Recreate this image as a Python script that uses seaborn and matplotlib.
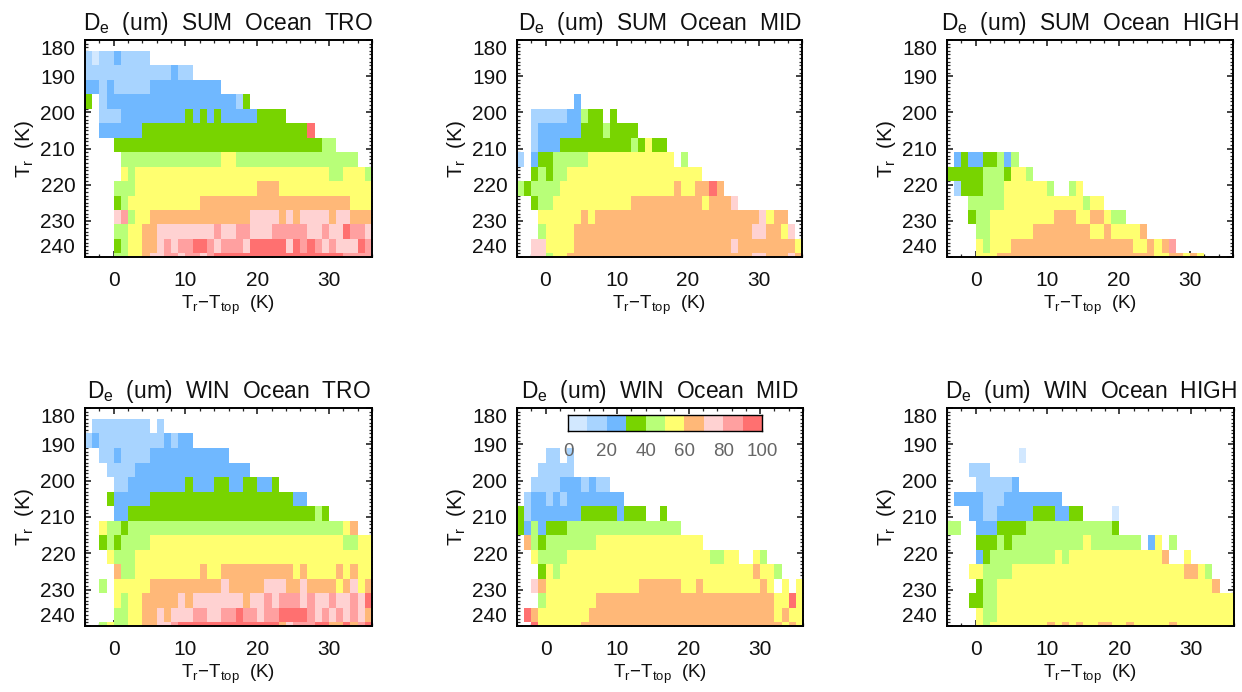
import numpy as np
import pandas as pd
import seaborn as sns
import matplotlib
matplotlib.use("Agg")
from matplotlib import pyplot as plt
from matplotlib.colors import ListedColormap
from matplotlib.ticker import FixedLocator

# each row is one Tr bin (top to bottom), columns are Tr-Ttop bins of 1 K
# digit = colour class of De (0 -> 0-10 um ... 9 -> 90-100 um), '.' = no data
# blocks of ten columns: -4..5, 6..15, 16..25, 26..35
sum_tro = [
    "",
    "101121111.",
    "1111111111 11211.....",
    "2212111112 222222222.",
    "3.12222222 2222222222 213.......",
    "..11122222 2222323232 22223333..",
    "..22222233 3333333333 3333333333 39........",
    "....333333 3333333333 3333333333 33344.....",
    ".....44444 4444444445 5444444444 44444444..",
    ".....54555 5555555555 5555555555 5555445554",
    "....444555 5555555555 5555666555 5555555555",
    "....345555 5555556666 6666666666 6666666555",
    "....784556 6666666666 6667777676 7777677666",
    "....445566 7777777787 7887778888 8778779887",
    "....345566 7878899878 8879999979 8987877798",
    "....445567 7887887899 9999999999 9999998888",
]
sum_mid = [
    "", "", "", "",
    "........2.",
    "..11111224 33.3......",
    "..12222223 3343333...",
    "..12223333 3333334353 3.........",
    "1.23344444 5555555555 55.4......",
    "..34344555 5555555555 555555....",
    "4344445555 5555555555 556556696.",
    "..34455555 5555556666 6666665666 7.........",
    "...5555556 5666666666 6666666666 66667566..",
    "...4555566 6666666666 6666666666 666776657.",
    "..77555566 6666666666 6666666666 7666666665",
    "..77455666 6666666666 6666666666 6667766676",
]
sum_high = [
    "", "", "", "", "", "", "", "",
    ".232233424",
    "3333344435 54........",
    ".133344455 55554..45.",
    "...4444455 5555555554 55........",
    "...3445555 5555566655 66544.....",
    "....445555 5566666666 55655556..",
    "....545556 6666666666 6666665565 68........",
    "....555666 6666666666 6666666665 566565....",
]
win_tro = [
    "",
    ".11111111. 1.........",
    "1211111111 12122.....",
    "..11211112 2222222222",
    "...1111222 2222222222 222.......",
    "....112222 2222322233 2233223...",
    "...3222223 3333333333 3333333332 2.........",
    "....223333 3333333333 3333333333 3343......",
    "..54434444 4444444444 4444444444 44444456..",
    "..34344445 5555555555 5555555555 5555554455",
    "...5444555 5555555555 5555555555 5555555555",
    "....644555 5555556556 6666666665 6555565655",
    "..4.555556 6666666667 6666677766 7666656756",
    "....545566 6667677777 7767787888 7877877879",
    "....445566 7677788778 8988788999 9878787876",
    "..45445566 7789999999 9999999678 8899669689",
]
win_mid = [
    "", "", "",
    "....11.1..",
    "...11111..",
    "..11112221 211.......",
    ".122121222 22222.....",
    "3122222223 33332333.. 3.........",
    "3242333444 4444444444 444.......",
    ".643444444 4555555555 555555....",
    "..54444555 5555555555 5555555445 5..54.....",
    "...3545555 5555555555 5555555555 5556554...",
    "..76555555 5555555666 6665565555 555565.5.5",
    "...4555555 5666666666 6666666666 6666665595",
    ".965555555 6666666666 6666666666 6666665655",
    "..95555556 6666666666 6666666666 6666666565",
]
win_high = [
    "", "", "",
    ".......... 0.........",
    "...111....",
    "....111112",
    ".222211122 222222....",
    "...2211222 223332233. ...0......",
    "44..222333 3444444444 4443......",
    "....333434 4444444445 4444444.25 .4........",
    "....234444 4444454555 5555555555 6..5......",
    "...5544445 5555555555 5555555555 5556654...",
    "....344555 5555555555 5555555555 55555556..",
    "...3344555 5555555555 5555555555 5555555555",
    "....544555 5555555555 5555555555 5555555555",
    "....545555 5555656565 5665565555 5655555555",
]

titles = ["SUM  Ocean  TRO", "SUM  Ocean  MID", "SUM  Ocean  HIGH",
          "WIN  Ocean  TRO", "WIN  Ocean  MID", "WIN  Ocean  HIGH"]
panels = [sum_tro, sum_mid, sum_high, win_tro, win_mid, win_high]

x_bins = list(range(-4, 36))          # lower edge of every column
tr_bins = list(range(179, 243, 4))    # upper edge (smaller Tr) of every row
x_ticks = [0, 10, 20, 30]
y_ticks = [180, 190, 200, 210, 220, 230, 240]
cbar_bins = [5, 15, 25, 35, 45, 55, 65, 75, 85, 95]
cbar_labels = [0, 20, 40, 60, 80, 100]

colors = ["#d2e8ff", "#a8d4ff", "#70b8ff", "#78d400", "#b8ff78",
          "#ffff70", "#ffb878", "#ffd2d2", "#ffa0a0", "#ff7070"]

W, H = 1242, 692
# axes boxes in pixels: left, right, top, bottom
boxes = [(85, 372, 40, 257), (517, 802, 40, 257), (947, 1233, 40, 257),
         (85, 372, 408, 626), (517, 803, 408, 626), (947, 1234, 408, 626)]

sns.set_theme(style="white")
plt.rcParams['font.family'] = ['Liberation Sans', 'DejaVu Sans']
plt.rcParams['mathtext.default'] = 'regular'
plt.rcParams['text.color'] = '#111111'

cmap = ListedColormap(colors)


def decode(rows):
    out = []
    for r in rows:
        s = r.replace(" ", "").ljust(40, ".")
        out.append([np.nan if c == "." else int(c) * 10 + 5 for c in s])
    return pd.DataFrame(out, index=tr_bins, columns=x_bins)


def add_axes(fig, box):
    l, r, t, b = box
    return fig.add_axes([l / W, 1 - b / H, (r - l) / W, (b - t) / H])


fig = plt.figure(figsize=(W / 100, H / 100), dpi=100)

for rows, title, box in zip(panels, titles, boxes):
    ax = add_axes(fig, box)
    sns.heatmap(decode(rows), cmap=cmap, vmin=0, vmax=100, cbar=False, ax=ax,
                xticklabels=False, yticklabels=False)
    # heatmap works in cell numbers, so convert the physical axis to them
    ax.set_xlim(0, 40)
    ax.set_ylim((240 - 179) / 4, (180 - 179) / 4)
    ax.set_xticks([v + 4 for v in x_ticks])
    ax.set_xticklabels(x_ticks)
    ax.set_yticks([(v - 179) / 4 for v in y_ticks])
    ax.set_yticklabels(y_ticks)
    ax.xaxis.set_minor_locator(FixedLocator([v + 4 for v in range(-4, 37, 2)]))
    ax.yaxis.set_minor_locator(FixedLocator([(v - 179) / 4 for v in range(180, 241)]))
    ax.tick_params(which='major', direction='in', length=4, width=1.1, top=True, right=True,
                   bottom=True, left=True, labelsize=15, colors='#111111')
    ax.tick_params(which='minor', direction='in', length=2, width=0.9, top=True, right=True,
                   bottom=True, left=True)
    ax.tick_params(axis='x', which='major', pad=10)
    ax.tick_params(axis='y', which='major', pad=7)
    labs = ax.get_yticklabels()
    labs[0].set_va('top')
    labs[-1].set_va('bottom')
    for s in ax.spines.values():
        s.set_visible(True)
        s.set_linewidth(1.4)
        s.set_color('black')
    ax.set_title(r"$D_e$  (um)  " + title, fontsize=16.4, pad=7, color='#111111')
    ax.set_xlabel(r"$T_r$−$T_{top}$  (K)", fontsize=13.5, labelpad=3, color='#111111')
    ax.set_ylabel(r"$T_r$  (K)", fontsize=15, labelpad=3, color='#111111')

# colour key sits inside the WIN MID panel
cax = add_axes(fig, (568, 762, 415, 431))
sns.heatmap(pd.DataFrame([cbar_bins]), cmap=cmap, vmin=0, vmax=100, cbar=False, ax=cax,
            xticklabels=False, yticklabels=False)
cax.set_xticks(range(0, 11, 2))
cax.set_xticklabels(cbar_labels)
cax.patch.set_alpha(0)
cax.tick_params(axis='x', direction='in', length=2, width=0.8, labelsize=13.5,
                labelcolor='#666666', pad=9, bottom=True)
for s in cax.spines.values():
    s.set_visible(True)
    s.set_linewidth(1.0)
    s.set_color('black')

fig.savefig("out.png", dpi=100, facecolor='white')
